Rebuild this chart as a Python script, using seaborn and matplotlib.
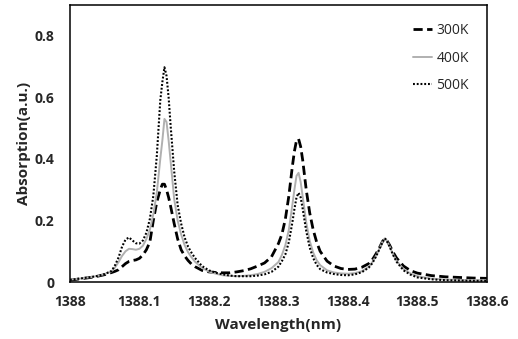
import numpy as np
import pandas as pd
import seaborn as sns
import matplotlib
matplotlib.use("Agg")
import matplotlib.pyplot as plt

# wavelength offsets from 1388 nm
offset = [0.000, 0.010, 0.020, 0.030, 0.040, 0.050, 0.060, 0.065, 0.070, 0.075,
          0.080, 0.085, 0.090, 0.095, 0.100, 0.105, 0.110, 0.115, 0.120, 0.125,
          0.130, 0.133, 0.136, 0.139, 0.142, 0.145, 0.150, 0.155, 0.160, 0.165,
          0.170, 0.175, 0.180, 0.190, 0.200, 0.210, 0.220, 0.230, 0.240, 0.250,
          0.260, 0.270, 0.280, 0.290, 0.300, 0.305, 0.310, 0.315, 0.320, 0.323,
          0.326, 0.329, 0.332, 0.335, 0.340, 0.345, 0.350, 0.355, 0.360, 0.370,
          0.380, 0.390, 0.400, 0.410, 0.420, 0.430, 0.435, 0.440, 0.445, 0.450,
          0.453, 0.456, 0.460, 0.465, 0.470, 0.480, 0.490, 0.500, 0.520, 0.540,
          0.560, 0.580, 0.600]
wavelength = [1388 + v for v in offset]

abs_300 = [0.006, 0.009, 0.012, 0.015, 0.019, 0.024, 0.031, 0.035, 0.040, 0.050,
           0.060, 0.067, 0.070, 0.072, 0.077, 0.088, 0.105, 0.130, 0.200, 0.260,
           0.300, 0.318, 0.318, 0.300, 0.275, 0.245, 0.190, 0.140, 0.105, 0.085,
           0.070, 0.058, 0.050, 0.038, 0.033, 0.031, 0.030, 0.030, 0.033, 0.037,
           0.043, 0.052, 0.062, 0.082, 0.125, 0.155, 0.205, 0.280, 0.375, 0.425,
           0.460, 0.465, 0.440, 0.395, 0.300, 0.225, 0.170, 0.130, 0.100, 0.068,
           0.052, 0.044, 0.041, 0.042, 0.048, 0.060, 0.072, 0.090, 0.110, 0.133,
           0.140, 0.135, 0.120, 0.097, 0.078, 0.052, 0.037, 0.029, 0.021, 0.017,
           0.015, 0.013, 0.012]

abs_400 = [0.008, 0.010, 0.013, 0.016, 0.020, 0.026, 0.035, 0.048, 0.065, 0.085,
           0.100, 0.108, 0.107, 0.105, 0.108, 0.118, 0.140, 0.170, 0.220, 0.290,
           0.400, 0.460, 0.530, 0.520, 0.460, 0.390, 0.270, 0.200, 0.155, 0.120,
           0.097, 0.080, 0.066, 0.046, 0.034, 0.027, 0.022, 0.020, 0.019, 0.020,
           0.022, 0.026, 0.033, 0.045, 0.065, 0.088, 0.120, 0.170, 0.250, 0.300,
           0.345, 0.355, 0.325, 0.276, 0.194, 0.134, 0.096, 0.071, 0.055, 0.038,
           0.031, 0.028, 0.027, 0.029, 0.035, 0.050, 0.064, 0.083, 0.107, 0.133,
           0.142, 0.135, 0.116, 0.090, 0.069, 0.042, 0.028, 0.019, 0.011, 0.008,
           0.007, 0.006, 0.006]

abs_500 = [0.007, 0.010, 0.013, 0.016, 0.020, 0.026, 0.036, 0.055, 0.080, 0.115,
           0.138, 0.145, 0.135, 0.126, 0.125, 0.135, 0.160, 0.205, 0.280, 0.410,
           0.590, 0.650, 0.698, 0.670, 0.600, 0.505, 0.360, 0.250, 0.190, 0.145,
           0.115, 0.095, 0.078, 0.052, 0.038, 0.030, 0.025, 0.021, 0.019, 0.019,
           0.019, 0.021, 0.025, 0.033, 0.050, 0.068, 0.090, 0.130, 0.193, 0.237,
           0.275, 0.290, 0.275, 0.237, 0.166, 0.112, 0.078, 0.056, 0.042, 0.031,
           0.026, 0.023, 0.022, 0.025, 0.032, 0.047, 0.061, 0.081, 0.105, 0.132,
           0.142, 0.135, 0.115, 0.088, 0.066, 0.038, 0.024, 0.015, 0.009, 0.006,
           0.005, 0.004, 0.004]

df = pd.DataFrame({'wl': wavelength, '300K': abs_300, '400K': abs_400, '500K': abs_500})

sns.set_style("white")
plt.rcParams['font.family'] = ['Open Sans', 'DejaVu Sans']

fig = plt.figure(figsize=(5.18, 3.39), dpi=100)
ax = fig.add_axes([0.135, 0.168, 0.805, 0.817])

sns.lineplot(data=df, x='wl', y='300K', ax=ax, color='black', lw=2.0, label='300K')
ax.lines[-1].set_dashes([3.3, 1.6])
sns.lineplot(data=df, x='wl', y='400K', ax=ax, color='#b0b0b0', lw=1.4, label='400K')
sns.lineplot(data=df, x='wl', y='500K', ax=ax, color='black', lw=1.5, label='500K')
ax.lines[-1].set_dashes([0.9, 0.9])

ax.set_xlim(1388, 1388.6)
ax.set_ylim(0, 0.9)
ax.set_xticks([1388, 1388.1, 1388.2, 1388.3, 1388.4, 1388.5, 1388.6])
ax.set_xticklabels(['1388', '1388.1', '1388.2', '1388.3', '1388.4', '1388.5', '1388.6'])
ax.set_yticks([0, 0.2, 0.4, 0.6, 0.8])
ax.set_yticklabels(['0', '0.2', '0.4', '0.6', '0.8'])
ax.tick_params(axis='x', length=0, labelsize=10, pad=9)
ax.tick_params(axis='y', length=0, labelsize=10, pad=11)
for t in ax.get_xticklabels() + ax.get_yticklabels():
    t.set_fontweight('bold')

ax.set_xlabel('Wavelength(nm)', fontsize=11, fontweight='bold', labelpad=7)
ax.set_ylabel('Absorption(a.u.)', fontsize=11, fontweight='bold', labelpad=3)

for s in ax.spines.values():
    s.set_color('black')
    s.set_linewidth(1.1)

leg = ax.legend(loc='upper right', frameon=False, fontsize=10, handlelength=1.4,
                labelspacing=0.9, handletextpad=0.3, borderaxespad=0.9)

fig.savefig('out.png', dpi=100)
